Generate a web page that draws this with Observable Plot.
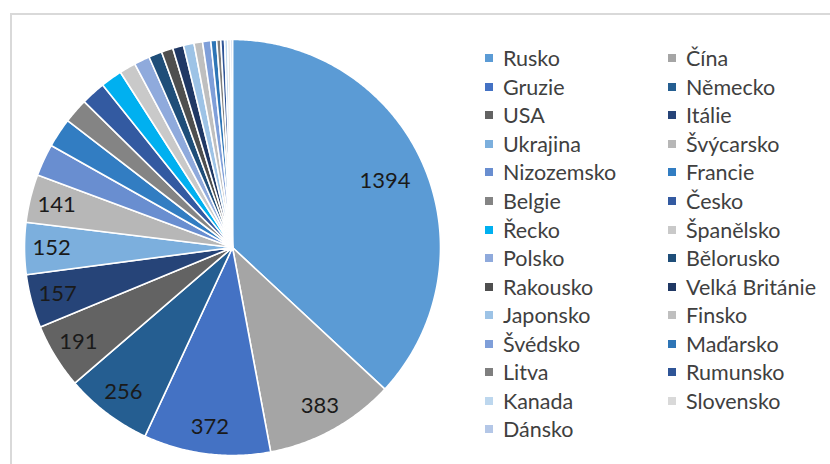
<!DOCTYPE html>
<html>
<head>
<meta charset="utf-8">
<script src="https://cdn.jsdelivr.net/npm/d3@7"></script>
<script src="https://cdn.jsdelivr.net/npm/@observablehq/plot@0.6"></script>
<style>
  html, body { margin: 0; padding: 0; background: #fff; }
  #wrap { position: relative; width: 830px; height: 464px; overflow: hidden; font-family: Lato, "Open Sans", sans-serif; }
  #frame { position: absolute; left: 10px; top: 13px; width: 840px; height: 470px; border-left: 2px solid #d9d9d9; border-top: 2px solid #d9d9d9; }
  #chart { position: absolute; left: 0; top: 0; }
  #legend { position: absolute; left: 485px; top: 44px; display: grid; grid-template-columns: 183px 170px; grid-auto-rows: 28.55px; font-size: 21.5px; color: #404040; }
  .item { display: flex; align-items: center; white-space: nowrap; }
  .sw { width: 8px; height: 8px; margin-right: 10px; flex: none; }
</style>
</head>
<body>
<div id="wrap">
  <div id="frame"></div>
  <div id="chart"></div>
  <div id="legend"></div>
</div>
<script>
const categories = ["Rusko","Čína","Gruzie","Německo","USA","Itálie","Ukrajina","Švýcarsko","Nizozemsko","Francie","Belgie","Česko","Řecko","Španělsko","Polsko","Bělorusko","Rakousko","Velká Británie","Japonsko","Finsko","Švédsko","Maďarsko","Litva","Rumunsko","Kanada","Slovensko","Dánsko"];
const values = [1394,383,372,256,191,157,152,141,94,86,73,72,63,48,46,39,34,32,31,25,24,17,12,11,9,8,6];
const colors = ["#5b9bd5","#a5a5a5","#4472c4","#255e91","#636363","#264478","#7cafdd","#b7b7b7","#698ed0","#327dc2","#848484","#335aa1","#00b0f0","#c9c9c9","#8faadc","#1f4e79","#4f4f4f","#203864","#9dc3e6","#bfbfbf","#7f9fd9","#2e75b6","#7f7f7f","#2f5597","#bdd7ee","#d9d9d9","#b4c7e7"];
const labelledCount = 8; // slices that carry a value label

const data = categories.map((name, i) => ({name, value: values[i]}));
const arcs = d3.pie().sort(null).value(d => d.value)(data);

// slice outlines (geometry from pie angles)
const poly = [];
for (const a of arcs) {
  const n = Math.max(2, Math.ceil((a.endAngle - a.startAngle) / (Math.PI / 360)));
  poly.push({name: a.data.name, x: 0, y: 0});
  for (let k = 0; k <= n; k++) {
    const t = a.startAngle + (a.endAngle - a.startAngle) * k / n;
    poly.push({name: a.data.name, x: Math.sin(t), y: Math.cos(t)});
  }
  poly.push({name: a.data.name, x: 0, y: 0});
}
const labels = arcs.slice(0, labelledCount).map(a => {
  const m = (a.startAngle + a.endAngle) / 2;
  const r = a.index === 0 ? 0.8 : 0.87;
  return {name: a.data.name, value: a.data.value, x: r * Math.sin(m), y: r * Math.cos(m)};
});

const R = 208, cx = 232, cy = 247;
const chart = Plot.plot({
  width: 460,
  height: 464,
  margin: 0,
  x: {domain: [-1, 1], range: [cx - R, cx + R], axis: null},
  y: {domain: [-1, 1], range: [cy + R, cy - R], axis: null},
  color: {domain: categories, range: colors},
  marks: [
    Plot.line(poly, {x: "x", y: "y", z: "name", fill: "name", stroke: "white", strokeWidth: 1.6, strokeLinejoin: "round", curve: "linear"}),
    Plot.text(labels, {x: "x", y: "y", text: d => String(d.value), fontSize: 22, fill: "#1a1a1a", fontFamily: "Lato, sans-serif"})
  ]
});
document.getElementById("chart").appendChild(chart);

const legend = document.getElementById("legend");
categories.forEach((c, i) => {
  const it = document.createElement("div");
  it.className = "item";
  const sw = document.createElement("span");
  sw.className = "sw";
  sw.style.background = colors[i];
  const tx = document.createElement("span");
  tx.textContent = c;
  it.appendChild(sw); it.appendChild(tx);
  legend.appendChild(it);
});
</script>
</body>
</html>
